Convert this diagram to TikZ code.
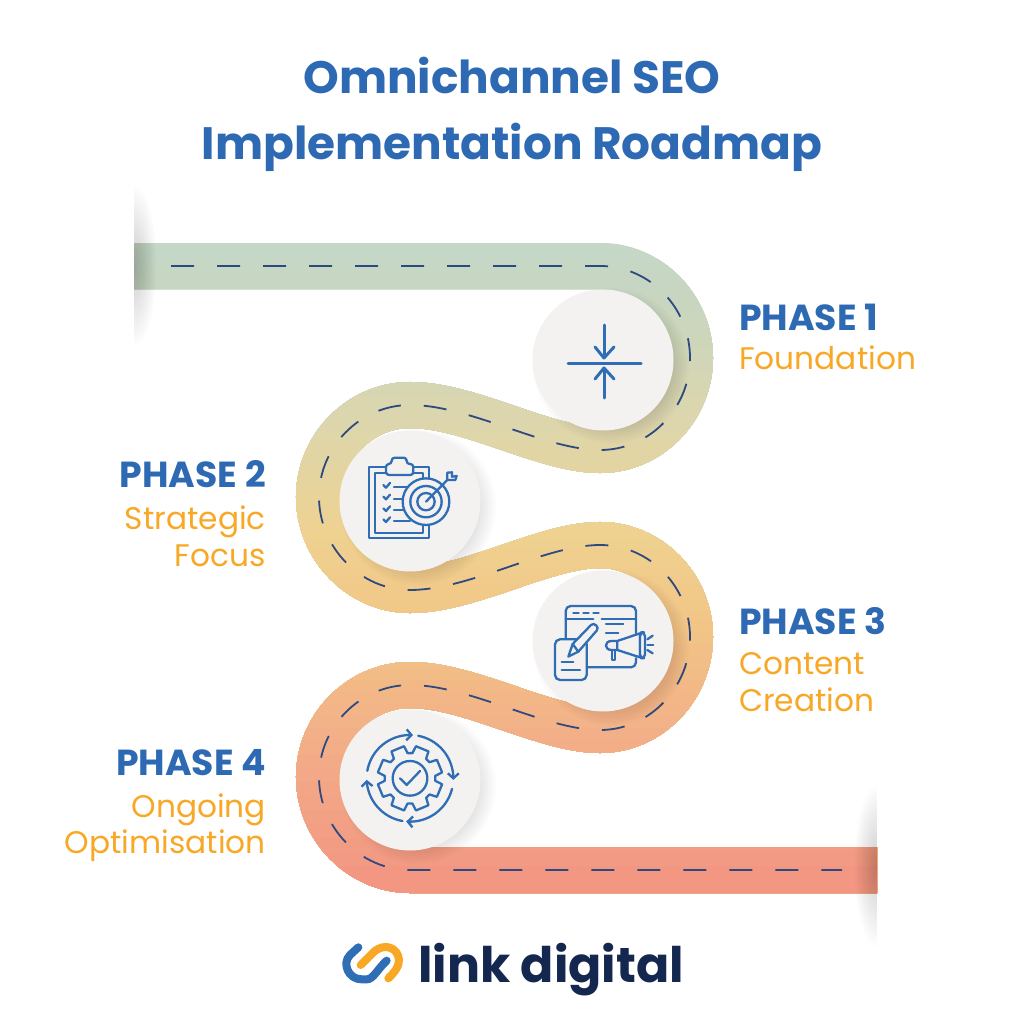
\documentclass[tikz,border=0pt]{standalone}
\usepackage{fontspec}
\setmainfont{Poppins}
\usetikzlibrary{arrows.meta}
\definecolor{titleblue}{HTML}{2E69B3}
\definecolor{phaseorange}{HTML}{F8A825}
\definecolor{dashnavy}{HTML}{2D4A80}
\definecolor{iconblue}{HTML}{2F6DB5}
\definecolor{discgray}{HTML}{F4F2F1}
\definecolor{logonavy}{HTML}{14284F}
\definecolor{roadA}{HTML}{C4D7C8}
\definecolor{roadB}{HTML}{C8D6C0}
\definecolor{roadC}{HTML}{DDD6AC}
\definecolor{roadD}{HTML}{EFD290}
\definecolor{roadE}{HTML}{F2C586}
\definecolor{roadF}{HTML}{F3AE88}
\definecolor{roadG}{HTML}{F39583}
\tikzset{
  road/.style={line width=46pt},
  roaddash/.style={draw=dashnavy,line width=1.8pt,dash pattern=on 23pt off 23pt},
  disc/.style={fill=discgray},
  iconline/.style={draw=iconblue,line width=2.3pt,line join=round,line cap=round},
  titletext/.style={text=titleblue,font=\fontsize{45.4}{45.4}\selectfont\bfseries,anchor=base},
  phasehead/.style={text=titleblue,font=\fontsize{36.2}{36.2}\selectfont\bfseries,inner sep=0pt},
  phasetext/.style={text=phaseorange,font=\fontsize{31.2}{31.2}\selectfont,inner sep=0pt},
}
% Tramo comun de la carretera
\def\roadbends{-- (600,266) .. controls (650,266) and (690,308) .. (690,358)
  .. controls (690,408) and (650,450) .. (600,450)
  .. controls (545,450) and (470,405) .. (410,405)
  .. controls (360,405) and (319,447) .. (319,497)
  .. controls (319,547) and (360,590) .. (410,590)
  .. controls (470,590) and (545,545) .. (600,545)
  .. controls (650,545) and (690,587) .. (690,637)
  .. controls (690,687) and (650,730) .. (600,730)
  .. controls (545,730) and (470,685) .. (410,685)
  .. controls (360,685) and (319,727) .. (319,777)
  .. controls (319,827) and (360,870) .. (410,870)}
\begin{document}
\begin{tikzpicture}[x=1pt,y=-1pt]
\useasboundingbox (0,0) rectangle (1024,1024);
\fill[white] (0,0) rectangle (1024,1024);
% Carretera, por franjas de color
\foreach \ya/\yb/\ca/\cb in {230/300/roadA/roadB,300/420/roadB/roadC,420/530/roadC/roadD,530/620/roadD/roadE,620/740/roadE/roadF,740/880/roadF/roadG}{
  \foreach \t in {0,10,...,90}{
    \pgfmathsetmacro\ycut{\ya+(\yb-\ya)*\t/100}
    \begin{scope}
      \clip (0,\ycut) rectangle (1024,1024);
      \draw[road,draw=\cb!\t!\ca] (134,266) \roadbends -- (877,870);
    \end{scope}
  }
}
\draw[roaddash] (171,266) \roadbends -- (842,870);
% Sombras de los extremos
\begin{scope}
  \clip (134,180) rectangle (170,350);
  \foreach \r in {1,...,16}{
    \fill[black,opacity=.01] (134,266) ellipse ({1.4*\r} and {5*\r});
  }
\end{scope}
\begin{scope}
  \clip (840,780) rectangle (877,950);
  \foreach \r in {1,...,16}{
    \fill[black,opacity=.01] (877,866) ellipse ({1.4*\r} and {5*\r});
  }
\end{scope}
% Discos con sombra
\foreach \cx/\cy in {603/360,410/501,603/641,410/780}{
  \foreach \r in {60,62,...,78}{
    \fill[black,opacity=.011] (\cx+8,\cy+6) circle (\r);
  }
  \fill[disc] (\cx,\cy) circle (70.5);
}
% Icono fase 1
\draw[iconline,line width=3pt] (568,363) -- (641,363);
\draw[iconline,line width=3pt] (604,325) -- (604,357);
\draw[iconline,line width=3pt] (595,347) -- (604,358) -- (614,347);
\draw[iconline,line width=3pt] (604,398) -- (604,369);
\draw[iconline,line width=3pt] (595,379) -- (604,368) -- (614,379);
% Icono fase 2
\begin{scope}[shift={(330,430)},x=.3333pt,y=-.3333pt]
\draw[iconline] (168,110) -- (118,110) -- (118,325) -- (296,325) -- (296,110) -- (250,110);
\draw[iconline] (168,130) -- (135,130) -- (135,308) -- (280,308) -- (280,130) -- (250,130);
\draw[iconline,rounded corners=3pt,fill=discgray] (168,102) -- (185,102) -- (185,83) -- (230,83) -- (230,102) -- (250,102) -- (250,135) -- (168,135) -- cycle;
\foreach \y in {165,200,235,268}{
  \draw[iconline] (160,\y) -- (168,\y+8) -- (180,\y-6);
  \draw[iconline] (192,\y+6) -- (240,\y+6);
}
\draw[iconline,fill=discgray] (288,215) circle (70);
\draw[iconline] (288,215) circle (47);
\draw[iconline] (288,215) circle (26);
\draw[iconline] (288,215) -- (352,150);
\draw[iconline] (352,128) -- (352,150) -- (376,150) -- (380,138) -- (366,140) -- (366,127) -- cycle;
\end{scope}
% Icono fase 3
\begin{scope}[shift={(530,570)},x=.3333pt,y=-.3333pt]
\draw[iconline,rounded corners=5pt] (107,205) -- (107,108) -- (318,108) -- (318,190);
\draw[iconline,rounded corners=5pt] (170,292) -- (318,292) -- (318,265);
\draw[iconline] (107,147) -- (190,147);
\draw[iconline] (215,147) -- (318,147);
\draw[iconline] (130,128) -- (146,128);
\draw[iconline] (160,128) -- (176,128);
\draw[iconline] (190,128) -- (206,128);
\draw[iconline] (228,162) -- (280,162);
\draw[iconline] (228,188) -- (265,188);
\draw[iconline,rounded corners=5pt,fill=discgray] (75,208) -- (170,208) -- (170,330) -- (75,330) -- cycle;
\draw[iconline] (95,275) -- (130,275);
\draw[iconline] (95,300) -- (150,300);
\draw[iconline,fill=discgray] (115,260) -- (128,222) -- (183,165) .. controls (192,155) and (210,172) .. (200,182) -- (145,245) -- cycle;
\draw[iconline] (128,222) -- (145,245);
\draw[iconline,fill=discgray] (262,213) -- (245,213) .. controls (222,213) and (222,240) .. (245,240) -- (262,240) -- cycle;
\draw[iconline,fill=discgray] (262,213) -- (330,190) -- (330,262) -- (262,240) -- cycle;
\draw[iconline,rounded corners=4pt,fill=discgray] (330,187) -- (345,187) -- (345,265) -- (330,265) -- cycle;
\draw[iconline] (245,242) -- (245,270) -- (255,270) -- (255,242);
\draw[iconline] (352,208) -- (368,197);
\draw[iconline] (352,224) -- (370,224);
\draw[iconline] (352,240) -- (368,250);
\end{scope}
% Icono fase 4
\begin{scope}[shift={(340,710)},x=.3333pt,y=-.3333pt]
\draw[iconline,-{Straight Barb[length=5pt,width=11pt]}] plot[domain=190:274,samples=25,variable=\a] ({210+130*cos(\a)},{205+130*sin(\a)});
\draw[iconline,-{Straight Barb[length=5pt,width=11pt]}] plot[domain=281:362,samples=25,variable=\a] ({210+130*cos(\a)},{205+130*sin(\a)});
\draw[iconline,-{Straight Barb[length=5pt,width=11pt]}] plot[domain=14:95,samples=25,variable=\a] ({210+130*cos(\a)},{205+130*sin(\a)});
\draw[iconline,-{Straight Barb[length=5pt,width=11pt]}] plot[domain=100:178,samples=25,variable=\a] ({210+130*cos(\a)},{205+130*sin(\a)});
\begin{scope}[shift={(210,205)}]
\draw[iconline] (10.5:98) \foreach \a in {22.5,67.5,...,337.5}{ -- (\a-12:98) -- (\a+12:98) -- (\a+17:76) -- (\a+28:76)} -- cycle;
\end{scope}
\draw[iconline] (210,205) circle (52);
\draw[iconline] (180,205) -- (200,225) -- (240,183);
\end{scope}
% Titulo
\node[titletext] (titleone) at (512,94) {Omnichannel SEO};
\node[titletext] (titletwo) at (512,160) {Implementation Roadmap};
% Fases
\node[phasehead,anchor=base west] (phaseone) at (739,330) {PHASE 1};
\node[phasetext,anchor=base west] (foundation) at (739,369) {Foundation};
\node[phasehead,anchor=base east] (phasetwo) at (266,487) {PHASE 2};
\node[phasetext,anchor=base east] (strategic) at (266,529) {Strategic};
\node[phasetext,anchor=base east] (focus) at (266,566) {Focus};
\node[phasehead,anchor=base west] (phasethree) at (739,634) {PHASE 3};
\node[phasetext,anchor=base west] (content) at (739,674) {Content};
\node[phasetext,anchor=base west] (creation) at (739,711) {Creation};
\node[phasehead,anchor=base east] (phasefour) at (266,775) {PHASE 4};
\node[phasetext,anchor=base east] (ongoing) at (266,817) {Ongoing};
\node[phasetext,anchor=base east] (optimisation) at (266,853) {Optimisation};
% Logo
\begin{scope}[shift={(330,920)},x=.3333pt,y=-.3333pt]
\draw[draw=phaseorange,line width=8pt,line cap=round] (92,135) -- (130,97) .. controls (165,65) and (205,85) .. (207,120) .. controls (207,140) and (195,155) .. (175,175);
\draw[draw=iconblue,line width=8pt,line cap=round] (85,82) -- (60,105) .. controls (35,130) and (55,178) .. (95,178) -- (110,178) .. controls (130,178) and (140,150) .. (170,122);
\end{scope}
\node[text=logonavy,font=\fontsize{49}{49}\selectfont\bfseries,inner sep=0pt,anchor=base west] (logotext) at (418,982) {link digital};
\end{tikzpicture}
\end{document}
